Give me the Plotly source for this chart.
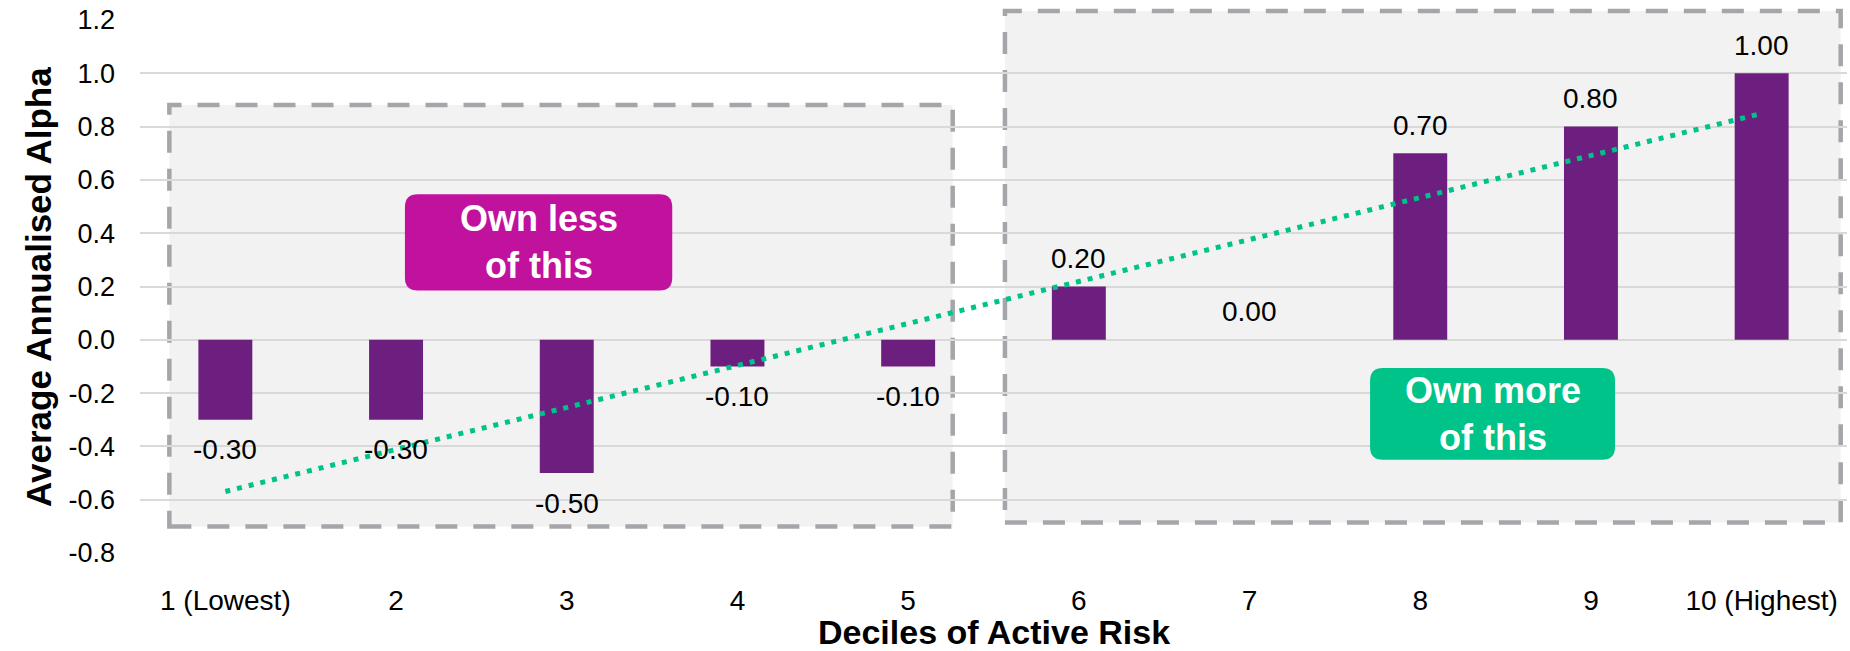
import numpy as np
import plotly.graph_objects as go

# ---- data ----
deciles = ["1 (Lowest)", "2", "3", "4", "5", "6", "7", "8", "9", "10 (Highest)"]
alpha = [-0.30, -0.30, -0.50, -0.10, -0.10, 0.20, 0.00, 0.70, 0.80, 1.00]
y_ticks = [-0.8, -0.6, -0.4, -0.2, 0.0, 0.2, 0.4, 0.6, 0.8, 1.0, 1.2]

PURPLE = "#6D1F7F"
MAGENTA = "#C1129E"
GREEN = "#00C389"
BOX_FILL = "#F2F2F2"
BOX_LINE = "#A4A6AA"
GRID = "#D9D9D9"
FONT = "Liberation Sans, Arial, sans-serif"

# least-squares linear trendline through the decile averages
pos = np.arange(1, len(alpha) + 1)
slope, intercept = np.polyfit(pos, alpha, 1)
trend_x = [deciles[0], deciles[-1]]
trend_y = [slope * pos[0] + intercept, slope * pos[-1] + intercept]

fig = go.Figure()
fig.add_trace(go.Bar(
    x=deciles, y=alpha, marker=dict(color=PURPLE, line=dict(width=0)),
    hoverinfo="x+y", showlegend=False,
))
fig.add_trace(go.Scatter(
    x=trend_x, y=trend_y, mode="lines",
    line=dict(color=GREEN, width=5, dash="5px,7px"),
    hoverinfo="skip", showlegend=False,
))

annotations = []
# value labels: above positive bars, below negative ones
# (category positions given by index so numeric names like "2" are not misread)
for i, v in enumerate(alpha):
    annotations.append(dict(
        x=i, y=v, xref="x", yref="y", text=f"{v:.2f}", showarrow=False,
        yanchor="middle", yshift=(-30 if v < 0 else 28),
        font=dict(family=FONT, size=28, color="#000000"),
    ))

# axis titles
annotations.append(dict(
    x=-0.0595, y=0.5, xref="paper", yref="paper", text="<b>Average Annualised Alpha</b>",
    textangle=-90, showarrow=False, xanchor="center", yanchor="middle",
    font=dict(family=FONT, size=35, color="#000000"),
))
annotations.append(dict(
    x=0.5, y=-0.149, xref="paper", yref="paper", text="<b>Deciles of Active Risk</b>",
    showarrow=False, xanchor="center", yanchor="middle",
    font=dict(family=FONT, size=34, color="#000000"),
))


def rounded_box(x0, y0, x1, y1, rx, ry):
    return (f"M {x0 + rx},{y0} L {x1 - rx},{y0} Q {x1},{y0} {x1},{y0 + ry} "
            f"L {x1},{y1 - ry} Q {x1},{y1} {x1 - rx},{y1} "
            f"L {x0 + rx},{y1} Q {x0},{y1} {x0},{y1 - ry} "
            f"L {x0},{y0 + ry} Q {x0},{y0} {x0 + rx},{y0} Z")


shapes = [
    # shaded, dashed regions
    dict(type="rect", xref="paper", yref="paper", x0=0.0172, x1=0.4761, y0=0.0499, y1=0.8406,
         fillcolor=BOX_FILL, line=dict(color=BOX_LINE, width=4.5, dash="22px,16px"), layer="below"),
    dict(type="rect", xref="paper", yref="paper", x0=0.5067, x1=0.9963, y0=0.0574, y1=1.0169,
         fillcolor=BOX_FILL, line=dict(color=BOX_LINE, width=4.5, dash="22px,16px"), layer="below"),
    # callout badges
    dict(type="path", xref="paper", yref="paper",
         path=rounded_box(0.1552, 0.4924, 0.3118, 0.6732, 0.0075, 0.024),
         fillcolor=MAGENTA, line=dict(width=0), layer="above"),
    dict(type="path", xref="paper", yref="paper",
         path=rounded_box(0.7206, 0.1749, 0.8641, 0.3469, 0.0075, 0.024),
         fillcolor=GREEN, line=dict(width=0), layer="above"),
]

annotations.append(dict(
    x=(0.1552 + 0.3118) / 2, y=(0.4924 + 0.6732) / 2, xref="paper", yref="paper",
    text="<b>Own less<br>of this</b>", showarrow=False, xanchor="center", yanchor="middle",
    font=dict(family=FONT, size=36, color="#FFFFFF"),
))
annotations.append(dict(
    x=(0.7206 + 0.8641) / 2, y=(0.1749 + 0.3469) / 2, xref="paper", yref="paper",
    text="<b>Own more<br>of this</b>", showarrow=False, xanchor="center", yanchor="middle",
    font=dict(family=FONT, size=36, color="#FFFFFF"),
))

fig.update_layout(
    width=1850, height=651, autosize=False,
    margin=dict(l=140, r=3, t=20, b=98),
    paper_bgcolor="#FFFFFF", plot_bgcolor="rgba(0,0,0,0)",
    bargap=0.684,
    font=dict(family=FONT, color="#000000"),
    shapes=shapes, annotations=annotations,
    xaxis=dict(
        type="category", showgrid=False, zeroline=False, showline=False, ticks="",
        tickfont=dict(family=FONT, size=28, color="#000000"), ticklabelstandoff=28,
    ),
    yaxis=dict(
        range=[-0.8, 1.2], tickvals=y_ticks, ticktext=[f"{t:.1f}" for t in y_ticks],
        showgrid=True, gridcolor=GRID, gridwidth=1.5,
        zeroline=True, zerolinecolor=GRID, zerolinewidth=1.5, showline=False, ticks="",
        tickfont=dict(family=FONT, size=27, color="#000000"), ticklabelstandoff=24,
    ),
)

fig.write_html("out.html")
